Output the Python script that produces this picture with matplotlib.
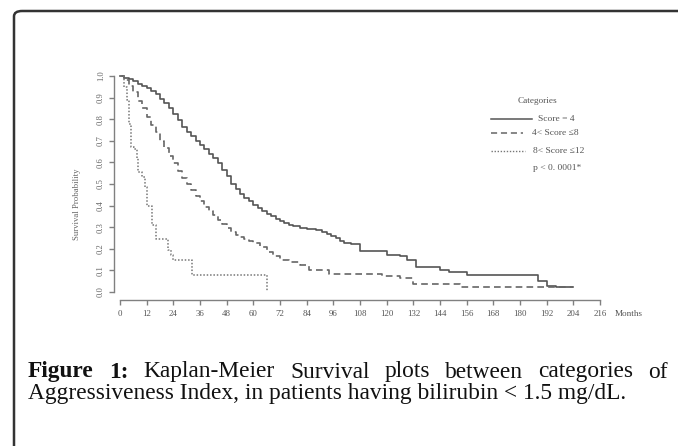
import matplotlib
matplotlib.use("Agg")
import matplotlib.pyplot as plt
from matplotlib.patches import FancyBboxPatch
from matplotlib.lines import Line2D

W, H = 678, 446

# ---- data ----
months_s1 = [0, 2, 4, 6, 8, 10, 12, 14, 16, 18, 20, 22, 24, 26, 28, 30, 32, 34, 36, 38, 40,
             42, 44, 46, 48, 50, 52, 54, 56, 58, 60, 62, 64, 66, 68, 70, 72, 74, 76, 78, 81,
             84, 88, 91, 93, 95, 97, 99, 101, 104, 108, 120, 126, 129, 133, 144, 148, 156,
             188, 192, 196, 204]
surv_s1 = [1.0, 0.99, 0.985, 0.975, 0.965, 0.955, 0.945, 0.93, 0.915, 0.895, 0.875, 0.85,
           0.825, 0.795, 0.765, 0.74, 0.72, 0.70, 0.68, 0.66, 0.64, 0.62, 0.595, 0.565,
           0.535, 0.50, 0.475, 0.455, 0.435, 0.42, 0.405, 0.39, 0.375, 0.36, 0.35, 0.34,
           0.33, 0.32, 0.31, 0.305, 0.298, 0.29, 0.285, 0.278, 0.27, 0.26, 0.25, 0.235,
           0.225, 0.22, 0.19, 0.172, 0.165, 0.148, 0.117, 0.102, 0.094, 0.079, 0.05, 0.03,
           0.022, 0.022]

months_s2 = [0, 2, 4, 6, 8, 10, 12, 14, 16, 18, 20, 22, 24, 26, 28, 30, 32, 34, 36, 38, 40,
             42, 44, 46, 48, 50, 52, 54, 56, 58, 60, 63, 66, 69, 72, 76, 81, 85, 94, 111,
             118, 126, 132, 150, 153, 204]
surv_s2 = [1.0, 0.98, 0.955, 0.925, 0.885, 0.85, 0.81, 0.775, 0.74, 0.70, 0.665, 0.63,
           0.595, 0.56, 0.53, 0.50, 0.47, 0.445, 0.42, 0.395, 0.375, 0.355, 0.335, 0.315,
           0.295, 0.28, 0.265, 0.255, 0.245, 0.235, 0.225, 0.21, 0.185, 0.165, 0.15, 0.14,
           0.125, 0.102, 0.083, 0.083, 0.075, 0.063, 0.037, 0.035, 0.022, 0.022]

months_s3 = [0, 2, 3, 4, 5, 6.5, 7.5, 8, 9.7, 11.2, 12, 14.2, 16, 21.7, 23, 24, 32.2, 66]
surv_s3 = [1.0, 0.95, 0.89, 0.78, 0.673, 0.66, 0.62, 0.557, 0.534, 0.487, 0.40, 0.31,
           0.244, 0.194, 0.171, 0.148, 0.079, 0.0]

series_labels = ["Score = 4", "4< Score \u22648", "8< Score \u226412"]
x_ticks = list(range(0, 217, 12))
y_ticks = [0.0, 0.1, 0.2, 0.3, 0.4, 0.5, 0.6, 0.7, 0.8, 0.9, 1.0]
legend_title = "Categories"
p_text = "p < 0. 0001*"

# ---- figure ----
fig = plt.figure(figsize=(W / 100, H / 100), dpi=100)

def fx(px):
    return px / W

def fy(py):
    return 1 - py / H

# frame (rounded corner top-left; extends beyond right/bottom edges)
frame = FancyBboxPatch((fx(14), fy(446 + 30)), fx(678 + 30 - 14), (446 + 30 - 11) / H,
                       boxstyle="round,pad=0,rounding_size=0.012",
                       transform=fig.transFigure, fill=False,
                       edgecolor="#333333", linewidth=1.8, clip_on=False)
fig.patches.append(frame)

# axes placement: x=0 at px 120, 2.2222 px/month; y=0 at py 292, 216 px per unit
x0px, xs = 120.0, 480.0 / 216.0
y0px, ys = 292.0, 216.0
xmin, xmax = -2.7, 220.0
ymin, ymax = -0.037, 1.02
left_px = x0px + xmin * xs
right_px = x0px + xmax * xs
bot_py = y0px - ymin * ys
top_py = y0px - ymax * ys
ax = fig.add_axes([fx(left_px), fy(bot_py), fx(right_px) - fx(left_px), (bot_py - top_py) / H])
ax.set_xlim(xmin, xmax)
ax.set_ylim(ymin, ymax)

gray = "#808080"
linec = "#555555"
ax.step(months_s1, surv_s1, where="post", color=linec, lw=1.2, linestyle="-")
ax.step(months_s2, surv_s2, where="post", color="#666666", lw=1.2, linestyle=(0, (4, 2.5)))
ax.step(months_s3, surv_s3, where="post", color="#777777", lw=1.1, linestyle=(0, (1, 1.2)))

for s in ["top", "right"]:
    ax.spines[s].set_visible(False)
ax.spines["left"].set_bounds(0, 1)
ax.spines["bottom"].set_bounds(0, 216)
for s in ["left", "bottom"]:
    ax.spines[s].set_color(gray)
    ax.spines[s].set_linewidth(1.0)

serif = ["Liberation Serif", "DejaVu Serif"]
ax.set_xticks(x_ticks)
ax.set_xticklabels([str(t) for t in x_ticks], fontsize=6.4, family=serif, color="#555555")
ax.set_yticks(y_ticks)
ax.set_yticklabels([f"{t:.1f}" for t in y_ticks], fontsize=6.2, family=serif,
                   color="#666666", rotation=90, va="center")
ax.tick_params(axis="x", direction="out", length=3.6, width=1.0, color=gray, pad=3.5)
ax.tick_params(axis="y", direction="out", length=3.6, width=1.0, color=gray, pad=3)

fig.text(fx(615), fy(314), "Months", fontsize=6.6, family=serif, color="#555555",
         ha="left", va="center")
fig.text(fx(77), fy(204), "Survival Probability", fontsize=6.3, family=serif,
         color="#666666", rotation=90, ha="center", va="center")

# legend
fig.text(fx(537), fy(101), legend_title, fontsize=6.7, family=serif, color="#555555",
         ha="center", va="center")
leg_rows = [(119, "-", linec, 1.1, 538), (133, (0, (4, 2.5)), "#666666", 1.1, 532),
            (151, (0, (1, 1.2)), "#777777", 1.0, 533)]
line_ends = [532, 523, 525]
for (py, ls, c, lw, tx), lab, xe in zip(leg_rows, series_labels, line_ends):
    fig.add_artist(Line2D([fx(491), fx(xe)], [fy(py), fy(py)], transform=fig.transFigure,
                          color=c, lw=lw, linestyle=ls))
    fig.text(fx(tx), fy(py), lab, fontsize=6.8, family=serif, color="#555555",
             ha="left", va="center")
fig.text(fx(533), fy(168), p_text, fontsize=6.8, family=serif, color="#555555",
         ha="left", va="center")

# caption
cap_font = ["Liberation Serif", "DejaVu Serif"]
line1_bold = ["Figure", "1:"]
line1_norm = ["Kaplan-Meier", "Survival", "plots", "between", "categories", "of"]
line2 = "Aggressiveness Index, in patients having bilirubin < 1.5 mg/dL."

renderer = fig.canvas.get_renderer()
fs = 14
t2 = fig.text(fx(28), fy(394), line2, fontsize=fs, family=cap_font, color="#111111",
              ha="left", va="center")
w2 = t2.get_window_extent(renderer).width
fs = fs * (627 - 28) / w2
t2.set_fontsize(fs)

words = [(w, "bold") for w in line1_bold] + [(w, "normal") for w in line1_norm]
arts = []
for w, wt in words:
    a = fig.text(0, fy(372), w, fontsize=fs, family=cap_font, weight=wt, color="#111111",
                 ha="left", va="center")
    arts.append(a)
widths = [a.get_window_extent(renderer).width for a in arts]
gap = ((668 - 28) - sum(widths)) / (len(arts) - 1)
xpos = 28.0
for a, wd in zip(arts, widths):
    a.set_x(fx(xpos))
    xpos += wd + gap

fig.savefig("out.png", dpi=100)
